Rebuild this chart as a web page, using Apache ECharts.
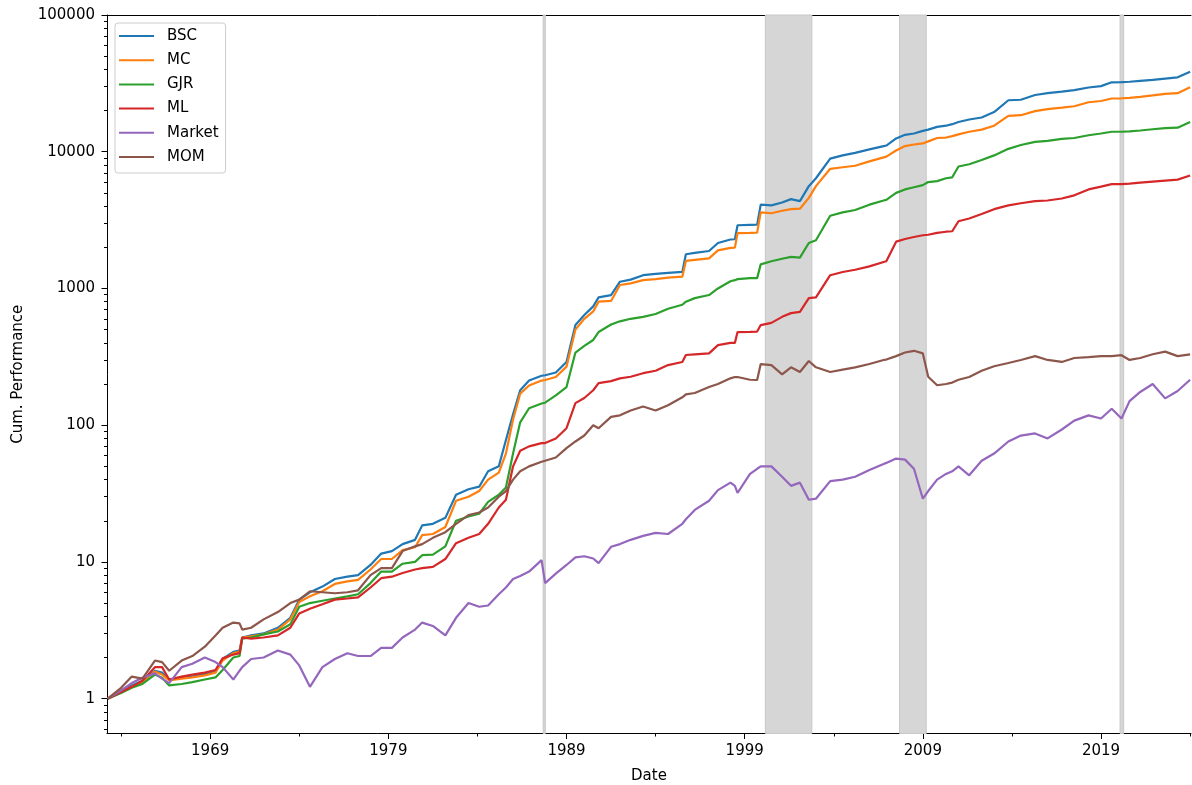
<!DOCTYPE html>
<html><head><meta charset="utf-8">
<script src="https://cdn.jsdelivr.net/npm/echarts@6/dist/echarts.min.js"></script>
<style>html,body{margin:0;padding:0;background:#fff}#c{width:1192px;height:785px}</style>
</head><body><div id="c"></div>
<script>
const dates = [1963.25,1964.0,1964.6,1965.2,1965.9,1966.3,1966.7,1967.4,1968.0,1968.7,
 1969.3,1969.7,1970.3,1970.65,1970.8,1971.3,1972.0,1972.8,1973.5,1974.0,
 1974.6,1975.3,1976.0,1976.7,1977.3,1978.0,1978.6,1979.2,1979.8,1980.5,
 1980.9,1981.5,1982.2,1982.8,1983.5,1984.1,1984.6,1985.2,1985.6,1986.0,
 1986.4,1986.9,1987.6,1987.8,1988.4,1989.0,1989.5,1990.0,1990.5,1990.8,
 1991.5,1992.0,1992.6,1993.3,1994.0,1994.7,1995.5,1995.7,1996.2,1997.0,
 1997.5,1998.2,1998.45,1998.6,1999.3,1999.7,1999.9,2000.5,2001.1,2001.6,
 2002.1,2002.6,2003.0,2003.8,2004.5,2005.2,2006.0,2006.8,2006.95,2007.5,
 2008.0,2008.5,2009.0,2009.3,2009.8,2010.3,2010.65,2011.0,2011.6,2012.3,
 2013.0,2013.8,2014.5,2015.3,2016.0,2016.8,2017.5,2018.3,2019.0,2019.6,
 2020.15,2020.6,2021.2,2021.9,2022.6,2023.3,2024.0];

const bsc = [1.0,1.13,1.25,1.35,1.6,1.55,1.38,1.42,1.45,1.52,
 1.6,1.95,2.2,2.25,2.8,2.9,3.0,3.3,3.9,5.3,
 6.0,6.6,7.5,7.8,8.0,9.5,11.5,12.0,13.5,14.5,
 18.5,19,21,31,34,35.5,46,50,78,120,
 180,212,230,232,243,290,540,640,740,860,
 895,1120,1160,1250,1280,1300,1320,1780,1820,1880,
 2150,2280,2290,2900,2920,2930,4100,4050,4250,4500,
 4350,5600,6400,8900,9400,9800,10400,11000,11100,12500,
 13300,13600,14200,14500,15200,15500,15900,16500,17200,17800,
 19500,23800,24000,26000,26800,27500,28200,29500,30200,32200,
 32300,32500,33000,33500,34300,35000,38500];

const mc = [1.0,1.12,1.22,1.32,1.58,1.5,1.36,1.4,1.43,1.48,
 1.55,1.9,2.15,2.2,2.8,2.85,2.95,3.2,3.8,5.1,
 5.6,6.1,6.9,7.2,7.4,8.8,10.5,10.5,12.2,12.8,
 15.7,16,18,28,30,33,40,45,62,110,
 170,195,212,214,225,268,500,600,680,800,
 810,1060,1090,1150,1170,1200,1220,1590,1620,1660,
 1900,1980,1990,2540,2550,2560,3600,3550,3700,3800,
 3830,4600,5600,7500,7700,7900,8500,9100,9200,10200,
 11000,11300,11500,11900,12600,12700,13000,13400,14000,14500,
 15500,18300,18500,19800,20500,21000,21500,23000,23500,24500,
 24600,24800,25200,25800,26500,26800,29600];

const gjr = [1.0,1.1,1.2,1.28,1.5,1.42,1.25,1.28,1.32,1.38,
 1.43,1.62,2.0,2.05,2.75,2.8,2.95,3.1,3.5,4.7,
 5.0,5.2,5.4,5.6,5.8,7.0,8.5,8.5,9.7,10,
 11.2,11.3,13,20,21.5,22.5,27.5,31,35,62,
 105,133,144,146,165,190,340,380,420,480,
 545,575,600,620,650,710,760,800,850,895,
 1000,1130,1150,1170,1190,1190,1500,1580,1650,1700,
 1680,2150,2250,3400,3600,3750,4100,4400,4450,5000,
 5300,5500,5700,6000,6100,6400,6500,7800,8100,8700,
 9400,10500,11200,11800,12000,12400,12600,13200,13600,14000,
 14000,14100,14300,14600,14900,15000,16500];

const ml = [1.0,1.12,1.22,1.35,1.7,1.7,1.38,1.45,1.5,1.55,
 1.62,1.97,2.1,2.15,2.8,2.75,2.8,2.9,3.3,4.2,
 4.55,4.9,5.3,5.4,5.5,6.5,7.6,7.8,8.3,8.8,
 9.0,9.2,10.5,13.7,15,16,19,25,28.5,50,
 65,70,74,74,80,95,145,158,180,203,
 210,220,226,240,250,275,290,326,330,335,
 385,400,400,480,482,484,540,560,620,660,
 675,850,860,1250,1320,1370,1450,1560,1580,2200,
 2300,2380,2450,2470,2550,2600,2620,3100,3250,3500,
 3800,4050,4200,4350,4400,4550,4800,5300,5550,5800,
 5800,5850,5950,6050,6150,6250,6700];

const market = [1.0,1.15,1.3,1.42,1.53,1.4,1.3,1.7,1.8,2.0,
 1.85,1.7,1.38,1.6,1.7,1.95,2.0,2.25,2.1,1.75,
 1.22,1.7,1.95,2.15,2.05,2.05,2.35,2.35,2.8,3.2,
 3.6,3.4,2.9,3.9,5.0,4.7,4.8,5.8,6.5,7.5,
 7.9,8.5,10.3,7.0,8.2,9.5,10.8,11,10.6,9.8,
 12.9,13.5,14.5,15.5,16.3,16,19,20.5,24,28,
 33.5,38,36,32,44,48,50,50,42,36,
 38,28.5,29,39,40,42,47,52,53,57,
 56,48,29,33,40,44,46,50,43,55,
 62,76,84,87,80,93,108,118,112,132,
 112,150,175,200,157,178,215];

const mom = [1.0,1.2,1.45,1.4,1.9,1.85,1.6,1.9,2.05,2.4,
 2.9,3.3,3.6,3.55,3.2,3.3,3.8,4.3,5.0,5.3,
 6.1,6.0,5.9,6.0,6.2,8.0,9.0,9.0,12,13,
 13.5,15,16.5,19,22,23,25,30,33,40,
 46,50,54,55,58,68,76,84,100,95,
 115,118,128,137,128,140,160,168,172,190,
 200,220,225,225,215,214,280,275,235,265,
 245,295,265,245,255,265,280,300,302,320,
 340,350,335,226,196,200,205,215,225,250,
 270,285,300,320,300,290,310,315,320,320,
 325,300,310,330,345,320,330];

const seriesNames = ['BSC','MC','GJR','ML','Market','MOM'];
const majorYearTicks = [1969,1979,1989,1999,2009,2019];
const minorYearTicks = [1964,1974,1984,1994,2004,2014,2024];
const yMajorTicks = [1,10,100,1000,10000,100000];
const yMinorTicks = [0.6,0.7,0.8,0.9,2,3,4,5,6,7,8,9,20,30,40,50,60,70,80,90,
 200,300,400,500,600,700,800,900,2000,3000,4000,5000,6000,7000,8000,9000,
 20000,30000,40000,50000,60000,70000,80000,90000];
const shadedPeriods = [[1987.69,1987.81],[2000.16,2002.77],[2007.69,2009.19],[2020.07,2020.27]];

const FONT = 'DejaVu Sans';
const colors = ['#1f77b4','#ff7f0e','#2ca02c','#d62728','#9467bd','#8c564b'];
const values = [bsc, mc, gjr, ml, market, mom];
const X_MIN = 1963.21, X_MAX = 2024.05, Y_MIN = 0.556, Y_MAX = 100000;

const series = seriesNames.map((n, i) => ({
  name: n, type: 'line', xAxisIndex: 0, yAxisIndex: 0,
  showSymbol: false, symbol: 'none',
  lineStyle: { width: 2.2, color: colors[i] },
  itemStyle: { color: colors[i] },
  data: dates.map((d, k) => [d, values[i][k]]),
  z: 3
}));
series[0].markArea = {
  silent: true, z: 1,
  itemStyle: { color: '#d6d6d6', borderColor: '#c8c8c8', borderWidth: 1 },
  data: shadedPeriods.map(p => [{ xAxis: p[0] }, { xAxis: p[1] }])
};

const labelStyle = { color: '#000', fontSize: 15, fontFamily: FONT };

const chart = echarts.init(document.getElementById('c'), null, { renderer: 'canvas' });
chart.setOption({
  animation: false,
  backgroundColor: '#fff',
  grid: { left: 107, top: 15, right: 1, bottom: 51.5, containLabel: false, outerBoundsMode: 'none' },
  legend: {
    data: seriesNames, orient: 'vertical', left: 115, top: 23,
    itemWidth: 35, itemHeight: 2, icon: 'rect', itemGap: 8.2,
    padding: [5, 7, 8, 4],
    backgroundColor: 'rgba(255,255,255,0.8)', borderColor: '#cccccc', borderWidth: 1, borderRadius: 3,
    textStyle: { color: '#000', fontSize: 15, fontFamily: FONT, padding: [0, 0, 0, 8], lineHeight: 16 }
  },
  xAxis: [
    { type: 'value', min: X_MIN, max: X_MAX, position: 'bottom',
      axisLine: { show: true, onZero: false, lineStyle: { color: '#000', width: 1 } },
      axisTick: { show: true, length: 5.5, lineStyle: { color: '#000' }, customValues: majorYearTicks },
      axisLabel: { ...labelStyle, margin: 10, customValues: majorYearTicks, formatter: v => String(Math.round(v)) },
      splitLine: { show: false },
      name: 'Date', nameLocation: 'middle', nameGap: 35, nameTextStyle: { ...labelStyle } },
    { type: 'value', min: X_MIN, max: X_MAX, position: 'bottom',
      axisLine: { show: false, onZero: false },
      axisTick: { show: true, length: 3, lineStyle: { color: '#000' }, customValues: minorYearTicks },
      axisLabel: { show: false }, splitLine: { show: false } },
    { type: 'value', min: X_MIN, max: X_MAX, position: 'top',
      axisLine: { show: true, onZero: false, lineStyle: { color: '#000', width: 1 } },
      axisTick: { show: false }, axisLabel: { show: false }, splitLine: { show: false } }
  ],
  yAxis: [
    { type: 'log', logBase: 10, min: Y_MIN, max: Y_MAX, position: 'left',
      axisLine: { show: true, onZero: false, lineStyle: { color: '#000', width: 1 } },
      axisTick: { show: true, length: 5.5, lineStyle: { color: '#000' }, customValues: yMajorTicks },
      axisLabel: { ...labelStyle, margin: 12, customValues: yMajorTicks, formatter: v => String(Math.round(v)) },
      splitLine: { show: false },
      name: 'Cum. Performance', nameLocation: 'middle', nameGap: 81, nameTextStyle: { ...labelStyle } },
    { type: 'log', logBase: 10, min: Y_MIN, max: Y_MAX, position: 'left',
      axisLine: { show: false, onZero: false },
      axisTick: { show: true, length: 3, lineStyle: { color: '#000' }, customValues: yMinorTicks },
      axisLabel: { show: false }, splitLine: { show: false } }
  ],
  series: series
});
</script>
</body></html>
